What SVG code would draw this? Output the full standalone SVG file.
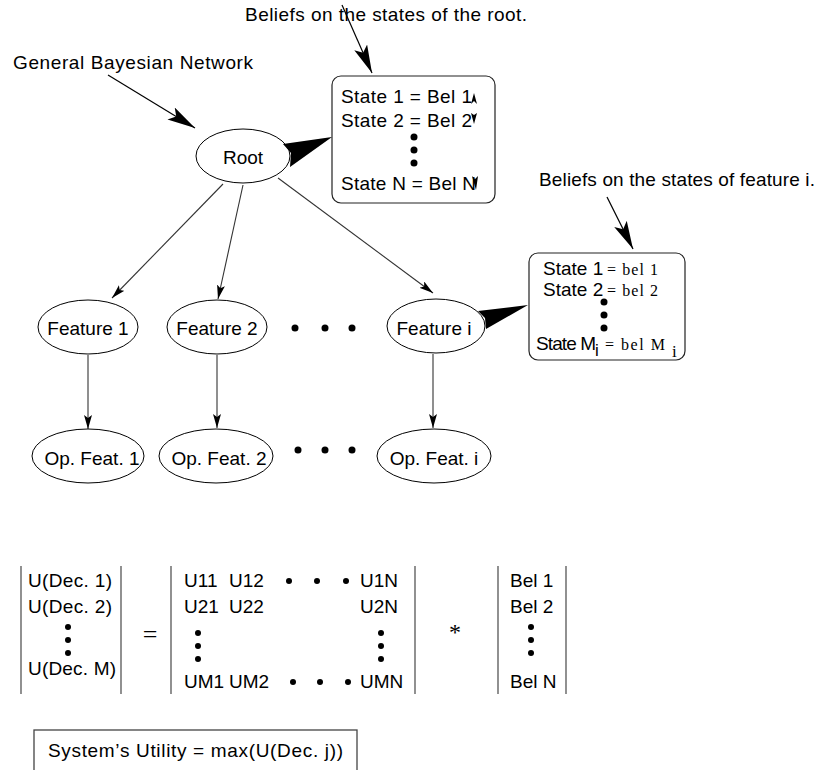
<svg xmlns="http://www.w3.org/2000/svg" width="827" height="770" viewBox="0 0 827 770">
  <style>
    .t { font-family: "Liberation Sans", Arial, Helvetica, sans-serif; font-size: 19px; fill: #000; }
    .m { text-anchor: middle; }
    .s { font-family: "Liberation Serif", "Times New Roman", serif; font-size: 16px; fill: #000; }
    .node { fill: #fff; stroke: #000; stroke-width: 1; }
    .box { fill: #fff; stroke: #222; stroke-width: 1.2; }
    .edge { stroke: #333; stroke-width: 1.1; fill: none; }
    .ptr { stroke: #000; stroke-width: 1.2; fill: none; }
    .bar { stroke: #555; stroke-width: 1.3; }
    .dot { fill: #000; }
  </style>
  <defs>
    <marker id="arr" markerUnits="userSpaceOnUse" markerWidth="15" markerHeight="9" refX="14" refY="4" orient="auto">
      <path d="M0,0 L14,4 L0,8 L3,4 z" fill="#000"/>
    </marker>
    <marker id="bigarr" markerUnits="userSpaceOnUse" markerWidth="30" markerHeight="15" refX="28" refY="7" orient="auto">
      <path d="M0,0 L28,7 L0,14 L6,7 z" fill="#000"/>
    </marker>
  </defs>

  <!-- annotation labels and their pointers -->
  <g id="label-network">
    <text class="t" x="13" y="69" textLength="240">General Bayesian Network</text>
    <line class="ptr" x1="108" y1="75" x2="195" y2="128" marker-end="url(#bigarr)"/>
  </g>
  <g id="label-root-beliefs">
    <text class="t" x="245" y="21" textLength="282">Beliefs on the states of the root.</text>
    <line class="ptr" x1="342" y1="5" x2="372" y2="73" marker-end="url(#bigarr)"/>
  </g>
  <g id="label-feature-beliefs">
    <text class="t" x="539" y="186" textLength="276">Beliefs on the states of feature i.</text>
    <line class="ptr" x1="607" y1="197" x2="633" y2="249" marker-end="url(#bigarr)"/>
  </g>

  <!-- connectors -->
  <g id="connectors">
    <line class="edge" x1="223" y1="184" x2="112" y2="298" marker-end="url(#arr)"/>
    <line class="edge" x1="243" y1="185" x2="218" y2="299" marker-end="url(#arr)"/>
    <line class="edge" x1="278" y1="178" x2="433" y2="293" marker-end="url(#arr)"/>
    <line class="edge" x1="88" y1="355" x2="88" y2="429" marker-end="url(#arr)"/>
    <line class="edge" x1="217" y1="355" x2="217" y2="428" marker-end="url(#arr)"/>
    <line class="edge" x1="433" y1="354" x2="433" y2="428" marker-end="url(#arr)"/>
  </g>

  <!-- root belief table -->
  <g id="root-beliefs">
    <rect class="box" x="332" y="76" width="163" height="127" rx="9"/>
    <text class="t" x="341" y="103" textLength="131">State 1 = Bel 1</text>
    <text class="t" x="341" y="127" textLength="131">State 2 = Bel 2</text>
    <circle class="dot" cx="414" cy="137" r="3.5"/>
    <circle class="dot" cx="414" cy="150" r="3.5"/>
    <circle class="dot" cx="414" cy="163" r="3.5"/>
    <text class="t" x="341" y="190" textLength="135">State N = Bel N</text>
    <path d="M474,93 L477,104 L474,101 L471,104 z" fill="#000"/>
    <path d="M471,113 L474,115 L477,113 L474,124 z" fill="#000"/>
    <path d="M472,176 L475,179 L478,176 L476,190 z" fill="#000"/>
  </g>

  <g id="root">
    <ellipse class="node" cx="243" cy="156" rx="47" ry="27"/>
    <text class="t m" x="243" y="164">Root</text>
    <path d="M283,144 L332,137 L290,167 L291,153 z" fill="#000"/>
  </g>

  <g id="feature-1">
    <ellipse class="node" cx="88" cy="327" rx="50" ry="27"/>
    <text class="t m" x="88" y="335">Feature 1</text>
  </g>
  <g id="feature-2">
    <ellipse class="node" cx="217" cy="327" rx="50" ry="27"/>
    <text class="t m" x="217" y="335">Feature 2</text>
  </g>
  <g id="feature-dots">
    <circle class="dot" cx="295" cy="328" r="3.5"/>
    <circle class="dot" cx="325" cy="328" r="3.5"/>
    <circle class="dot" cx="352" cy="328" r="3.5"/>
  </g>
  <g id="feature-i">
    <ellipse class="node" cx="436" cy="326" rx="49" ry="27"/>
    <text class="t m" x="434" y="335">Feature i</text>
    <path d="M478,311 L528,305 L486,329 L485,318 z" fill="#000"/>
  </g>

  <!-- feature belief table -->
  <g id="feature-beliefs">
    <rect class="box" x="529" y="253" width="156" height="107" rx="9"/>
    <text class="t" x="543" y="275">State 1</text>
    <text class="s" x="607" y="275" textLength="51">= bel 1</text>
    <text class="t" x="543" y="296">State 2</text>
    <text class="s" x="607" y="296" textLength="51">= bel 2</text>
    <circle class="dot" cx="604" cy="302" r="3.5"/>
    <circle class="dot" cx="604" cy="315" r="3.5"/>
    <circle class="dot" cx="604" cy="328" r="3.5"/>
    <text class="t" x="536" y="350" textLength="60">State M</text>
    <text class="t" x="595" y="356" style="font-size:17px">i</text>
    <text class="s" x="605" y="350" textLength="60">= bel M</text>
    <text class="s" x="672" y="357" style="font-size:17px">i</text>
  </g>

  <g id="op-feature-1">
    <ellipse class="node" cx="88" cy="456" rx="56" ry="27"/>
    <text class="t m" x="92" y="465">Op. Feat. 1</text>
  </g>
  <g id="op-feature-2">
    <ellipse class="node" cx="216" cy="456" rx="57" ry="27"/>
    <text class="t m" x="219" y="465">Op. Feat. 2</text>
  </g>
  <g id="op-feature-dots">
    <circle class="dot" cx="298" cy="450" r="3.5"/>
    <circle class="dot" cx="325" cy="450" r="3.5"/>
    <circle class="dot" cx="352" cy="450" r="3.5"/>
  </g>
  <g id="op-feature-i">
    <ellipse class="node" cx="434" cy="456" rx="57" ry="27"/>
    <text class="t m" x="434" y="465">Op. Feat. i</text>
  </g>

  <!-- utility equation: decision vector = utility matrix * belief vector -->
  <g id="decision-vector">
    <line class="bar" x1="21" y1="566" x2="21" y2="694"/>
    <line class="bar" x1="121" y1="566" x2="121" y2="694"/>
    <text class="t" x="28" y="587" textLength="84">U(Dec. 1)</text>
    <text class="t" x="28" y="613" textLength="84">U(Dec. 2)</text>
    <circle class="dot" cx="68" cy="627" r="3"/>
    <circle class="dot" cx="68" cy="640" r="3"/>
    <circle class="dot" cx="68" cy="653" r="3"/>
    <text class="t" x="28" y="675" textLength="88">U(Dec. M)</text>
  </g>
  <text class="s" x="150" y="643" text-anchor="middle" style="font-size:26px">=</text>
  <g id="utility-matrix">
    <line class="bar" x1="171" y1="566" x2="171" y2="694"/>
    <line class="bar" x1="415" y1="566" x2="415" y2="694"/>
    <text class="t" x="184" y="587">U11</text>
    <text class="t" x="229" y="587">U12</text>
    <circle class="dot" cx="289" cy="581" r="3"/>
    <circle class="dot" cx="317" cy="581" r="3"/>
    <circle class="dot" cx="346" cy="581" r="3"/>
    <text class="t" x="360" y="587">U1N</text>
    <text class="t" x="184" y="613">U21</text>
    <text class="t" x="229" y="613">U22</text>
    <text class="t" x="360" y="613">U2N</text>
    <circle class="dot" cx="198" cy="633" r="3"/>
    <circle class="dot" cx="198" cy="646" r="3"/>
    <circle class="dot" cx="198" cy="659" r="3"/>
    <circle class="dot" cx="381" cy="633" r="3"/>
    <circle class="dot" cx="381" cy="646" r="3"/>
    <circle class="dot" cx="381" cy="659" r="3"/>
    <text class="t" x="184" y="688">UM1</text>
    <text class="t" x="229" y="688">UM2</text>
    <circle class="dot" cx="293" cy="682" r="3"/>
    <circle class="dot" cx="320" cy="682" r="3"/>
    <circle class="dot" cx="348" cy="682" r="3"/>
    <text class="t" x="360" y="688">UMN</text>
  </g>
  <text class="s" x="455" y="640" text-anchor="middle" style="font-size:24px">*</text>
  <g id="belief-vector">
    <line class="bar" x1="498" y1="566" x2="498" y2="694"/>
    <line class="bar" x1="566" y1="566" x2="566" y2="694"/>
    <text class="t" x="510" y="587">Bel 1</text>
    <text class="t" x="510" y="613">Bel 2</text>
    <circle class="dot" cx="531" cy="627" r="3"/>
    <circle class="dot" cx="531" cy="640" r="3"/>
    <circle class="dot" cx="531" cy="653" r="3"/>
    <text class="t" x="510" y="688">Bel N</text>
  </g>

  <g id="system-utility">
    <rect x="34" y="730" width="323" height="45" fill="#fff" stroke="#444" stroke-width="1.3"/>
    <text class="t" x="48" y="757" textLength="295">System’s Utility = max(U(Dec. j))</text>
  </g>
</svg>
